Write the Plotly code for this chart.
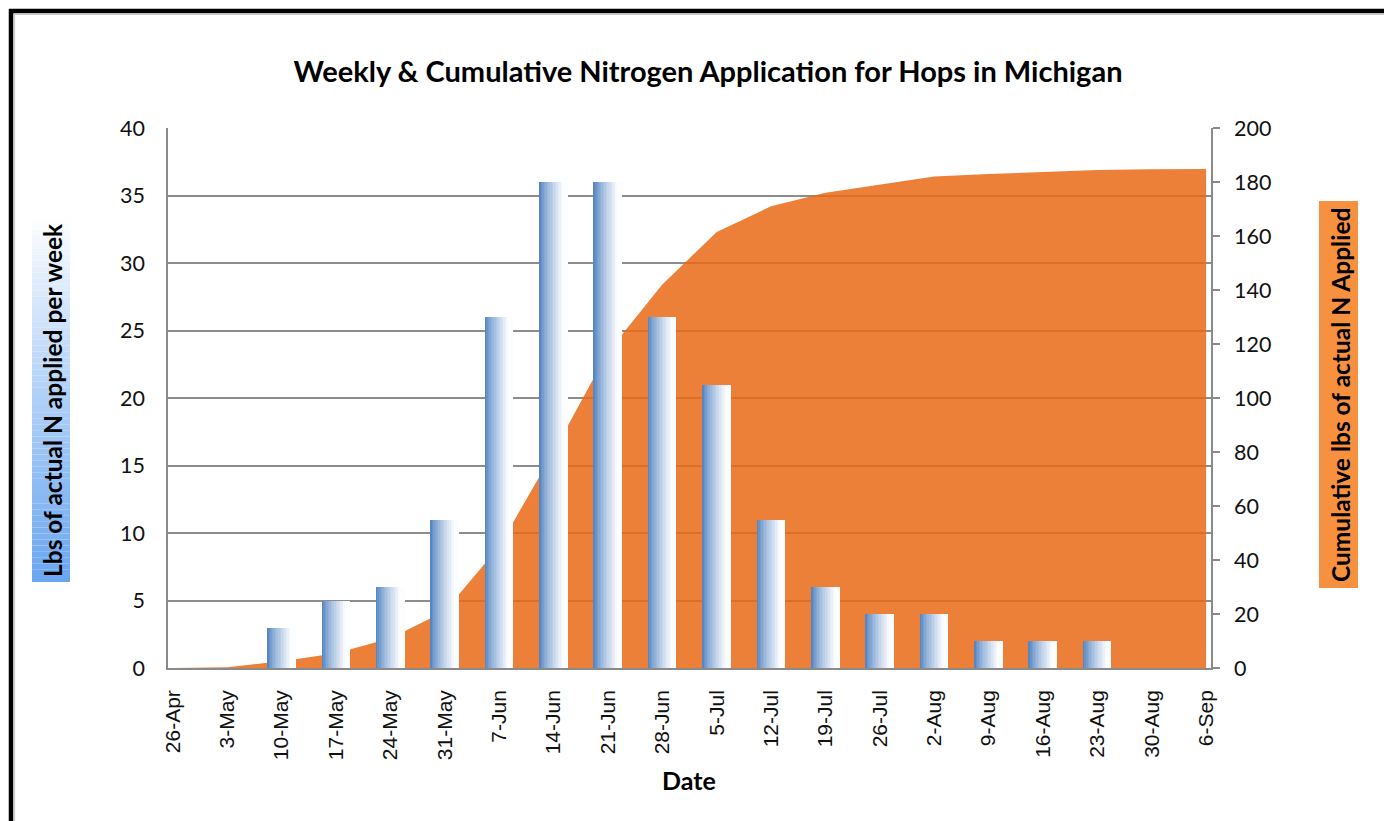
import plotly.graph_objects as go

# ---------------- data ----------------
dates = ["26-Apr", "3-May", "10-May", "17-May", "24-May", "31-May", "7-Jun", "14-Jun",
         "21-Jun", "28-Jun", "5-Jul", "12-Jul", "19-Jul", "26-Jul", "2-Aug", "9-Aug",
         "16-Aug", "23-Aug", "30-Aug", "6-Sep"]
weekly = [0, 0, 3, 5, 6, 11, 26, 36, 36, 26, 21, 11, 6, 4, 4, 2, 2, 2, 0, 0]
cumulative = [0, 0.3, 2.5, 5.5, 11, 21, 45, 80, 117, 142, 161.5, 171, 176, 179, 182,
              183, 183.7, 184.4, 184.7, 184.8]
left_ticks = [0, 5, 10, 15, 20, 25, 30, 35, 40]
right_ticks = [0, 20, 40, 60, 80, 100, 120, 140, 160, 180, 200]

x = list(range(len(dates)))

# ---------------- geometry (page has 8px body margin) ----------------
OFF = 8
W, H = 1392 - OFF, 821 - OFF
L, R, T, B = 168 - OFF, 1211 - OFF, 128 - OFF, 668 - OFF
def px(v):  # screen pixel -> paper
    return (v - OFF - L) / (R - L)
def py(v):
    return (B - (v - OFF)) / (B - T)

fig = go.Figure()

# cumulative area (base axis, drawn underneath)
fig.add_trace(go.Scatter(
    x=x, y=cumulative, xaxis="x", yaxis="y", mode="lines",
    line=dict(width=0, color="rgba(233,106,21,0.85)"),
    fill="tozeroy", fillcolor="rgba(233,106,21,0.85)",
    name="Cumulative", showlegend=False))

# weekly bars with left-to-right blue->white gradient, built from slices
bar_w = 0.515
n_sl = 18
c0 = (72, 124, 190)
c1 = (252, 253, 255)
for i in range(n_sl):
    t = (i + 0.5) / n_sl
    f = min(1.0, t / 0.85) ** 0.75
    col = tuple(int(round(c0[k] + (c1[k] - c0[k]) * f)) for k in range(3))
    fig.add_trace(go.Bar(
        x=x, y=weekly, xaxis="x", yaxis="y2",
        width=bar_w / n_sl + 0.002, offset=-bar_w / 2 + i * bar_w / n_sl,
        marker=dict(color="rgb(%d,%d,%d)" % col, line=dict(width=0)),
        showlegend=False, hoverinfo="skip" if i else "y", name="Weekly"))

# ---------------- decorations ----------------
shapes = []
# black frame (top and left)
shapes.append(dict(type="line", xref="paper", yref="paper",
                   x0=px(9), x1=px(1392), y0=py(11), y1=py(11),
                   line=dict(color="black", width=4.5)))
shapes.append(dict(type="line", xref="paper", yref="paper",
                   x0=px(13), x1=px(1392), y0=py(14.5), y1=py(14.5),
                   line=dict(color="#c8c8c8", width=1.2)))
shapes.append(dict(type="line", xref="paper", yref="paper",
                   x0=px(11), x1=px(11), y0=py(9), y1=py(821),
                   line=dict(color="black", width=4.5)))
shapes.append(dict(type="line", xref="paper", yref="paper",
                   x0=px(14.5), x1=px(14.5), y0=py(14), y1=py(821),
                   line=dict(color="#c8c8c8", width=1.2)))

# left title gradient box (white at top -> blue at bottom)
box_top, box_bot = 218, 582
n_g = 60
top_c = (255, 255, 255)
bot_c = (106, 166, 240)
for i in range(n_g):
    y0p = box_top + (box_bot - box_top) * i / n_g
    y1p = box_top + (box_bot - box_top) * (i + 1) / n_g
    f = ((i + 0.5) / n_g) ** 0.9
    col = tuple(int(round(top_c[k] + (bot_c[k] - top_c[k]) * f)) for k in range(3))
    shapes.append(dict(type="rect", xref="paper", yref="paper",
                       x0=px(32), x1=px(70), y0=py(y1p), y1=py(y0p),
                       fillcolor="rgb(%d,%d,%d)" % col, line=dict(width=0), layer="below"))

# right title orange box
shapes.append(dict(type="rect", xref="paper", yref="paper",
                   x0=px(1319), x1=px(1358), y0=py(588), y1=py(201),
                   fillcolor="#F8913F", line=dict(width=0), layer="below"))

annotations = [
    dict(text="<b>Lbs of actual N applied per week</b>", xref="paper", yref="paper",
         x=px(52), y=py(400), textangle=-90, showarrow=False,
         font=dict(family="Lato", size=24.5, color="black"),
         xanchor="center", yanchor="middle"),
    dict(text="<b>Cumulative lbs of actual N Applied</b>", xref="paper", yref="paper",
         x=px(1340), y=py(395), textangle=-90, showarrow=False,
         font=dict(family="Lato", size=24.5, color="black"),
         xanchor="center", yanchor="middle"),
    dict(text="<b>Date</b>", xref="paper", yref="paper",
         x=px(689), y=py(780), showarrow=False,
         font=dict(family="Lato", size=25, color="black"),
         xanchor="center", yanchor="middle"),
]

fig.update_layout(
    width=W, height=H,
    margin=dict(l=L, r=W - R, t=T, b=H - B, autoexpand=False),
    paper_bgcolor="white", plot_bgcolor="white",
    barmode="overlay", bargap=0,
    title=dict(text="<b>Weekly & Cumulative Nitrogen Application for Hops in Michigan</b>",
               x=(708 - OFF) / W, xanchor="center", xref="container",
               y=1 - (72 - OFF) / H, yanchor="middle", yref="container",
               font=dict(family="Lato", size=29, color="black")),
    xaxis=dict(range=[-0.09, 19.09], tickmode="array", tickvals=x, ticktext=dates,
               tickangle=-90, showgrid=False, zeroline=False,
               showline=True, linecolor="#8a8a8a", linewidth=1.5,
               ticks="", ticklabelstandoff=12,
               tickfont=dict(family="Liberation Sans", size=21, color="#111")),
    yaxis=dict(side="right", range=[0, 200], tickmode="array", tickvals=right_ticks,
               showgrid=False, zeroline=False,
               showline=True, linecolor="#8a8a8a", linewidth=1.5,
               ticks="outside", ticklen=7, tickcolor="#8a8a8a", tickwidth=1.5,
               ticklabelstandoff=10,
               tickfont=dict(family="Lato", size=21.5, color="#111")),
    yaxis2=dict(overlaying="y", side="left", range=[0, 40], tickmode="array",
                tickvals=left_ticks, showgrid=True, gridcolor="#8c8c8c", gridwidth=1.5,
                zeroline=False, showline=True, linecolor="#8a8a8a", linewidth=1.5,
                ticks="", ticklabelstandoff=17,
                tickfont=dict(family="Lato", size=21.5, color="#111")),
    shapes=shapes, annotations=annotations,
)

fig.write_html("out.html")
